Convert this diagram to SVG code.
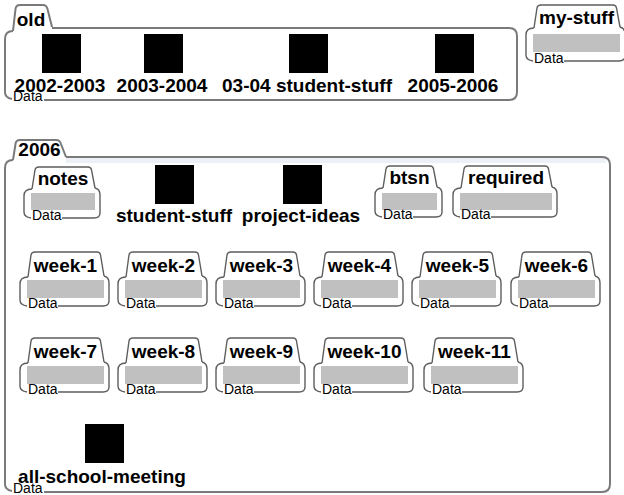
<svg xmlns="http://www.w3.org/2000/svg" width="624" height="495" viewBox="0 0 624 495">
<style>
.fr{fill:none;stroke:#7a7a7a;stroke-width:2}
.ftab{fill:#fff;stroke:#7a7a7a;stroke-width:2}
.ln{fill:none;stroke:#5e5e5e;stroke-width:1.4}
.tab{fill:#fff;stroke:#5e5e5e;stroke-width:1.4}
.gr{fill:#c0c0c0}
.sq{fill:#000}
.lb{font-family:"Liberation Sans",Arial,sans-serif;font-weight:bold;font-size:19px;fill:#000;text-anchor:middle}
.dt{font-family:"Liberation Sans",Arial,sans-serif;font-size:14px;fill:#000}
</style>
<rect width="624" height="495" fill="#fff"/>
<g id="connectors"/>

<g id="old">
<path class="fr" d="M52,28 L509,28 Q517,28 517,36 L517,92 Q517,100 509,100 L44,100"/>
<path class="fr" d="M13,31 Q5,31 5,39 L5,92 Q5,98 12,99"/>
<path class="ftab" d="M13,31 L15.5,9 Q16,5 20,5 L43,5 Q46.5,5 47.5,9 L52,27"/>
<text class="lb" x="31" y="26">old</text>
<text class="dt" x="13" y="101">Data</text>
</g>
<g id="n2002-2003"><rect class="sq" x="42" y="34" width="39" height="39"/><text class="lb" x="60" y="92">2002-2003</text></g>
<g id="n2003-2004"><rect class="sq" x="144" y="34" width="39" height="39"/><text class="lb" x="162" y="92">2003-2004</text></g>
<g id="n03-04"><rect class="sq" x="289" y="34" width="39" height="39"/><text class="lb" x="307" y="92">03-04 student-stuff</text></g>
<g id="n2005-2006"><rect class="sq" x="435" y="34" width="39" height="39"/><text class="lb" x="453" y="92">2005-2006</text></g>

<g id="my-stuff" transform="translate(526,5)">
<path class="ln" d="M8,23 Q0,23 0,30 L0,50 Q0,55 7,56"/>
<path class="ln" d="M94,22 Q99,23 99,29 L99,51 Q99,56 93,56 L38,56"/>
<path class="tab" d="M8,23 L11,3 Q11.5,0 15,0 L87,0 Q90,0 90.5,3 L94,22"/>
<rect class="gr" x="7" y="29" width="87" height="18"/>
<text class="lb" x="50.5" y="19">my-stuff</text>
<text class="dt" x="8" y="58">Data</text>
</g>

<g id="f2006">
<rect x="66" y="158" width="540" height="5" fill="#eef0f8"/>
<path class="fr" d="M66,157 L602,157 Q610,157 610,165 L610,484 Q610,492 602,492 L44,492"/>
<path class="fr" d="M13,160 Q5,160 5,168 L5,484 Q5,490 12,491"/>
<path class="ftab" d="M13,160 L15.5,144 Q16,140 20,140 L56,140 Q60,140 61,144 L66,157"/>
<text class="lb" x="39.5" y="156">2006</text>
<text class="dt" x="13" y="493">Data</text>
</g>

<g id="notes" transform="translate(24,167)">
<path class="ln" d="M8,22 Q0,22 0,29 L0,45 Q0,50 7,51"/>
<path class="ln" d="M71,21 Q76,22 76,28 L76,46 Q76,51 70,51 L38,51"/>
<path class="tab" d="M8,22 L11,3 Q11.5,0 15,0 L64,0 Q67,0 67.5,3 L71,21"/>
<rect class="gr" x="7" y="26" width="64" height="17"/>
<text class="lb" x="39" y="18">notes</text>
<text class="dt" x="8" y="53">Data</text>
</g>
<g id="student-stuff"><rect class="sq" x="155" y="165" width="39" height="39"/><text class="lb" x="174" y="222">student-stuff</text></g>
<g id="project-ideas"><rect class="sq" x="283" y="165" width="39" height="39"/><text class="lb" x="301" y="222">project-ideas</text></g>
<g id="btsn" transform="translate(375,166)">
<path class="ln" d="M8,22 Q0,22 0,29 L0,45 Q0,50 7,51"/>
<path class="ln" d="M62,21 Q67,22 67,28 L67,46 Q67,51 61,51 L38,51"/>
<path class="tab" d="M8,22 L11,3 Q11.5,0 15,0 L55,0 Q58,0 58.5,3 L62,21"/>
<rect class="gr" x="7" y="27" width="55" height="17"/>
<text class="lb" x="34.5" y="18">btsn</text>
<text class="dt" x="8" y="53">Data</text>
</g>
<g id="required" transform="translate(453,166)">
<path class="ln" d="M8,22 Q0,22 0,29 L0,45 Q0,50 7,51"/>
<path class="ln" d="M99,21 Q104,22 104,28 L104,46 Q104,51 98,51 L38,51"/>
<path class="tab" d="M8,22 L11,3 Q11.5,0 15,0 L92,0 Q95,0 95.5,3 L99,21"/>
<rect class="gr" x="7" y="27" width="92" height="17"/>
<text class="lb" x="53" y="18">required</text>
<text class="dt" x="8" y="53">Data</text>
</g>

<defs>
<g id="wk89">
<path class="ln" d="M8,25 Q0,25 0,32 L0,48 Q0,53 7,54"/>
<path class="ln" d="M84,24 Q89,25 89,31 L89,49 Q89,54 83,54 L38,54"/>
<path class="tab" d="M8,25 L11,3 Q11.5,0 15,0 L77,0 Q80,0 80.5,3 L84,24"/>
<rect class="gr" x="7" y="28" width="77" height="18"/>
<text class="dt" x="8" y="56">Data</text>
</g>
<g id="wk99">
<path class="ln" d="M8,25 Q0,25 0,32 L0,48 Q0,53 7,54"/>
<path class="ln" d="M94,24 Q99,25 99,31 L99,49 Q99,54 93,54 L38,54"/>
<path class="tab" d="M8,25 L11,3 Q11.5,0 15,0 L87,0 Q90,0 90.5,3 L94,24"/>
<rect class="gr" x="7" y="28" width="87" height="18"/>
<text class="dt" x="8" y="56">Data</text>
</g>
</defs>

<g id="week-1" transform="translate(20,252)"><use href="#wk89"/><text class="lb" x="45.5" y="20">week-1</text></g>
<g id="week-2" transform="translate(118,252)"><use href="#wk89"/><text class="lb" x="45.5" y="20">week-2</text></g>
<g id="week-3" transform="translate(216,252)"><use href="#wk89"/><text class="lb" x="45.5" y="20">week-3</text></g>
<g id="week-4" transform="translate(314,252)"><use href="#wk89"/><text class="lb" x="45.5" y="20">week-4</text></g>
<g id="week-5" transform="translate(412,252)"><use href="#wk89"/><text class="lb" x="45.5" y="20">week-5</text></g>
<g id="week-6" transform="translate(511,252)"><use href="#wk89"/><text class="lb" x="45.5" y="20">week-6</text></g>

<g id="week-7" transform="translate(20,338)"><use href="#wk89"/><text class="lb" x="45.5" y="20">week-7</text></g>
<g id="week-8" transform="translate(118,338)"><use href="#wk89"/><text class="lb" x="45.5" y="20">week-8</text></g>
<g id="week-9" transform="translate(216,338)"><use href="#wk89"/><text class="lb" x="45.5" y="20">week-9</text></g>
<g id="week-10" transform="translate(314,338)"><use href="#wk99"/><text class="lb" x="50.5" y="20">week-10</text></g>
<g id="week-11" transform="translate(424,338)"><use href="#wk99"/><text class="lb" x="50.5" y="20">week-11</text></g>

<g id="all-school-meeting"><rect class="sq" x="85" y="424" width="39" height="39"/><text class="lb" x="102" y="483">all-school-meeting</text></g>
</svg>
